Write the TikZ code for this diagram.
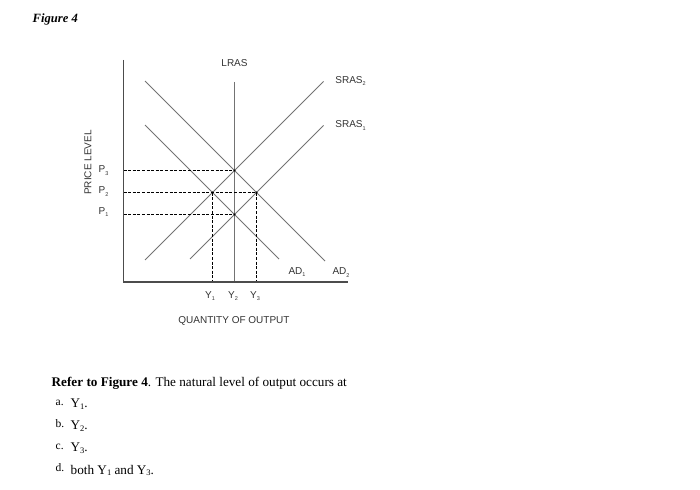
\documentclass[tikz,border=0pt]{standalone}
\usepackage{fontspec}
\setmainfont{Liberation Serif}
\newfontfamily\arialf{Liberation Sans}
\tikzset{
  curve/.style={draw=black!55, line width=1pt},
  axisline/.style={draw=black!70, line width=1.2pt},
  guide/.style={draw=black, line width=1.25pt, dash pattern=on 3pt off 1.6pt},
  glabel/.style={font=\arialf\fontsize{10}{11}\selectfont, text=black!80, inner sep=0pt},
  qtext/.style={font=\fontsize{13.2}{15}\selectfont, anchor=base west, inner sep=0pt},
  opt/.style={font=\fontsize{11.5}{13}\selectfont, anchor=base west, inner sep=0pt},
  dotpt/.style={fill=black, circle, inner sep=0pt, minimum size=2.4pt}
}
\newcommand{\gsub}[1]{\raisebox{-0.45ex}{\fontsize{5.5}{5.5}\selectfont #1}}
\newcommand{\qsub}[1]{\raisebox{-0.3ex}{\fontsize{8.5}{8.5}\selectfont #1}}
\begin{document}
\begin{tikzpicture}[x=1pt,y=-1pt]
\useasboundingbox (0,0) rectangle (700,489);
% axes
\coordinate (O) at (123.5,282);
\coordinate (Ytop) at (123.5,60);
\coordinate (Xend) at (348,282);
% key points
\coordinate (E3) at (234.5,170.5);
\coordinate (E1) at (234.5,214.5);
\coordinate (EA) at (212.5,192.5);
\coordinate (EB) at (256.5,192.5);
\coordinate (AP3) at (123.5,170.5);
\coordinate (AP2) at (123.5,192.5);
\coordinate (AP1) at (123.5,214.5);
\coordinate (AY1) at (212.5,282);
\coordinate (AY3) at (256.5,282);
\coordinate (LRtop) at (234.5,82);
\coordinate (LRbot) at (234.5,282);
% curves ends
\coordinate (S2a) at (145,260);
\coordinate (S2b) at (323.5,81.5);
\coordinate (S1a) at (190,259);
\coordinate (S1b) at (323.5,125.5);
\coordinate (D2a) at (145,81);
\coordinate (D2b) at (325,261);
\coordinate (D1a) at (145,125);
\coordinate (D1b) at (279,259);

% curves
\draw[curve] (LRtop) -- (LRbot);
\draw[curve] (S2a) -- (S2b);
\draw[curve] (S1a) -- (S1b);
\draw[curve] (D2a) -- (D2b);
\draw[curve] (D1a) -- (D1b);
% guides
\draw[guide] (AP3) -- (E3);
\draw[guide] (AP2) -- (EB);
\draw[guide] (AP1) -- (E1);
\draw[guide] (EA) -- (AY1);
\draw[guide] (EB) -- (AY3);
% axes
\draw[axisline] (Ytop) -- (O) -- (Xend);
% dots
\node[dotpt] (d3) at (E3) {};
\node[dotpt] (d1) at (E1) {};
\node[dotpt] (da) at (EA) {};
\node[dotpt] (db) at (EB) {};

% graph labels
\node[glabel] (lras) at (234.5,63.5) {LRAS};
\node[glabel] (sras2) at (350.5,81) {SRAS\gsub{2}};
\node[glabel] (sras1) at (350.5,125.5) {SRAS\gsub{1}};
\node[glabel] (ad1) at (297,272) {AD\gsub{1}};
\node[glabel] (ad2) at (341,272.5) {AD\gsub{2}};
\node[glabel] (p3) at (103.5,170.5) {P\gsub{3}};
\node[glabel] (p2) at (103.5,191.5) {P\gsub{2}};
\node[glabel] (p1) at (103.5,212) {P\gsub{1}};
\node[glabel, rotate=90] (plev) at (88,162.5) {PRICE LEVEL};
\node[glabel] (y1) at (210,296) {Y\gsub{1}};
\node[glabel] (y2) at (233,296) {Y\gsub{2}};
\node[glabel] (y3) at (255,296) {Y\gsub{3}};
\node[glabel] (qo) at (234,320.5) {QUANTITY OF OUTPUT};

% title
\node[font=\fontsize{12.6}{14}\selectfont\bfseries\itshape, anchor=base west, inner sep=0pt] (fig) at (32.5,22.5) {Figure 4};

% question
\node[qtext] (q) at (51.5,386) {\textbf{Refer to Figure 4}. The natural level of output occurs at};
\node[opt] (oa) at (55.5,405) {a.};
\node[qtext] (ya) at (70.5,407.5) {Y\qsub{1}.};
\node[opt] (ob) at (55.5,427) {b.};
\node[qtext] (yb) at (70.5,429.5) {Y\qsub{2}.};
\node[opt] (oc) at (55.5,449) {c.};
\node[qtext] (yc) at (70.5,451.5) {Y\qsub{3}.};
\node[opt] (od) at (55.5,471) {d.};
\node[qtext] (yd) at (70.5,474) {both Y\qsub{1} and Y\qsub{3}.};
\end{tikzpicture}
\end{document}
